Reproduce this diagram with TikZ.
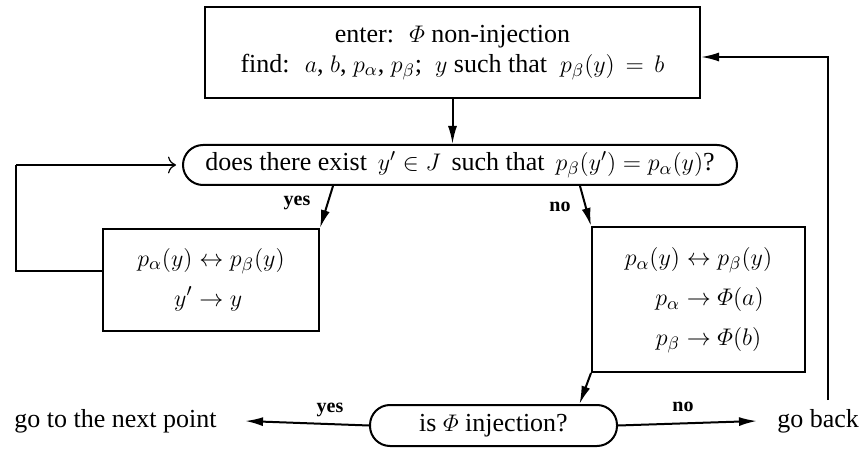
\documentclass[tikz,border=0pt]{standalone}
\usepackage{amsmath,amssymb}
\usepackage{fontspec}
\setmainfont{Liberation Serif}
\usepackage{tikz}
\usetikzlibrary{arrows.meta}

\begin{document}
\begin{tikzpicture}[x=0.5pt,y=-0.5pt,
    font=\fontsize{13}{15}\selectfont,
    blk/.style={draw, line width=1pt, align=center, inner sep=0pt},
    test/.style={draw, line width=1pt, rounded corners=10pt, inner sep=0pt},
    lbl/.style={font=\fontsize{10}{12}\selectfont\bfseries},
    flow/.style={line width=1pt, -{Latex[length=9pt,width=4.5pt]}},
    loopline/.style={line width=0.6pt, -{To[length=4pt]}}]

    \useasboundingbox (0,0) rectangle (863,449);

    % boxes
    \node[blk, minimum width=247.5pt, minimum height=45.5pt] (enter) at (452.5,52.5)
      {enter: \ $\varPhi$ non-injection\\[0pt]
       find: \ $a$, $b$, $p_\alpha$, $p_\beta$; \ $y$ such that \ $p_\beta(y) \,=\, b$};
    \node[test, minimum width=277pt, minimum height=20pt] (exist) at (460,165)
      {does there exist \,$y' \in J$\, such that \,$p_\beta(y') = p_\alpha(y)$?};
    \node[blk, minimum width=108pt, minimum height=51pt] (swap) at (211,280)
      {$\begin{aligned} p_\alpha(y) &\leftrightarrow p_\beta(y)\\[2pt] y' &\to y\end{aligned}$};
    \node[blk, minimum width=106.5pt, minimum height=72.5pt] (reset) at (698.5,299.5)
      {$\begin{aligned} p_\alpha(y) &\leftrightarrow p_\beta(y)\\[2pt]
        p_\alpha &\to \varPhi(a)\\[2pt] p_\beta &\to \varPhi(b)\end{aligned}$};
    \node[test, minimum width=123.5pt, minimum height=20.5pt] (inj) at (493.5,425.5)
      {is $\varPhi$ injection?};

    % exits
    \node[anchor=east, inner sep=0pt] (next) at (217,421) {go to the next point};
    \node[anchor=west, inner sep=0pt] (back) at (777,421) {go back};
    \coordinate (loopc) at (16,165);
    \coordinate (backc) at (828,400);

    % labels
    \node[lbl] (yes1) at (297,203) {yes};
    \node[lbl] (no1) at (560,207) {no};
    \node[lbl] (yes2) at (330,410) {yes};
    \node[lbl] (no2) at (683,407) {no};

    % connectors
    \draw[flow] (enter.south) -- (enter.south |- exist.north);
    \draw[flow] ([xshift=-63.5pt]exist.south) -- (swap.north east);
    \draw[flow] ([xshift=60pt]exist.south) -- (reset.north west);
    \draw[flow] (reset.south west) -- ([xshift=43pt]inj.north);
    \draw[flow] (inj.west) -- ([xshift=14pt]next.east);
    \draw[flow] (inj.east) -- ([xshift=-10pt]back.west);
    \draw[line width=1pt] ([yshift=4.5pt]swap.west) -| (loopc);
    \draw[loopline] (loopc) -- ([xshift=-3pt]exist.west);
    \draw[flow] (backc) |- ([yshift=-2.25pt]enter.east);
\end{tikzpicture}
\end{document}
